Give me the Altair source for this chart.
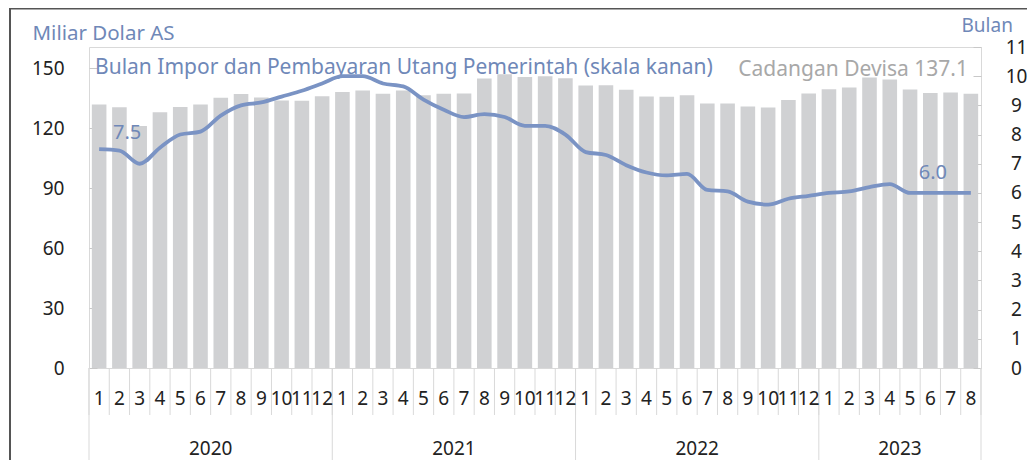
import altair as alt
import pandas as pd

# ---- data ----
years = [2020] * 12 + [2021] * 12 + [2022] * 12 + [2023] * 8
months = list(range(1, 13)) * 3 + list(range(1, 9))
reserves = [131.7, 130.4, 121.0, 127.9, 130.5, 131.7, 135.1, 137.0, 135.2, 133.7, 133.6, 135.9,
            138.0, 138.8, 137.1, 138.8, 136.4, 137.1, 137.3, 144.8, 146.9, 145.5, 145.9, 144.9,
            141.3, 141.4, 139.1, 135.7, 135.6, 136.4, 132.2, 132.2, 130.8, 130.2, 134.0, 137.2,
            139.4, 140.3, 145.2, 144.2, 139.3, 137.5, 137.7, 137.1]
import_months = [7.5, 7.45, 7.0, 7.55, 8.0, 8.1, 8.65, 9.0, 9.1, 9.3, 9.5, 9.75,
                 10.0, 10.0, 9.75, 9.65, 9.2, 8.85, 8.6, 8.7, 8.6, 8.3, 8.3, 8.0,
                 7.4, 7.3, 6.95, 6.7, 6.6, 6.65, 6.1, 6.05, 5.7, 5.6, 5.8, 5.9,
                 6.0, 6.05, 6.2, 6.3, 6.0, 6.0, 6.0, 6.0]
year_labels = ["2020", "2021", "2022", "2023"]
left_ticks = [0, 30, 60, 90, 120, 150]
right_ticks = list(range(0, 12))

n = len(reserves)
df = pd.DataFrame({
    "idx": list(range(n)),
    "year": years,
    "month": months,
    "reserves": reserves,
    "imp": import_months,
})
df["mlabel"] = df["month"].astype(str)

yr = df.groupby("year")["idx"].agg(["min", "max"]).reset_index()
yr["center"] = (yr["min"] + yr["max"]) / 2
yr["label"] = year_labels
yr_bounds = pd.DataFrame({"b": [-0.5] + [float(v) + 0.5 for v in yr["max"]]})
m_bounds = pd.DataFrame({"b": [i - 0.5 for i in range(n + 1)]})

FONT = "Noto Sans"
BAR = "#d0d1d3"
LINE = "#7a93c4"
BLUE_TXT = "#6f88b8"
GRID = "#d9d9d9"

xs = alt.Scale(domain=[-0.5, n - 0.5], nice=False, zero=False)
yl = alt.Scale(domain=[0, 160.5], nice=False)
yr_s = alt.Scale(domain=[0, 11], nice=False)

left_axis = alt.Axis(
    values=left_ticks, grid=False, domain=False, ticks=True, tickSize=8,
    tickColor="#c8c8c8", offset=-8, labelPadding=25, labelFontSize=19,
    labelColor="#222222", labelFont=FONT,
    title="Miliar Dolar AS", titleAngle=0, titleAlign="left",
    titleBaseline="middle", titleX=-65, titleY=-14, titleFontSize=20.5,
    titleFontWeight="normal", titleColor=BLUE_TXT, titleFont=FONT,
)
right_axis = alt.Axis(
    orient="right", values=right_ticks, grid=False, domain=False, ticks=True,
    tickSize=8, tickColor="#c8c8c8", offset=-8, labelPadding=35,
    labelAlign="center", labelFontSize=19, labelColor="#222222", labelFont=FONT,
    title="Bulan", titleAngle=0, titleAlign="left", titleBaseline="middle",
    titleX=-12, titleY=-22, titleFontSize=19, titleFontWeight="normal",
    titleColor=BLUE_TXT, titleFont=FONT,
)

base = alt.Chart(df)

bars = base.transform_calculate(
    x1="datum.idx - 0.36", x2="datum.idx + 0.36"
).mark_bar(color=BAR).encode(
    x=alt.X("x1:Q", scale=xs, axis=None),
    x2="x2:Q",
    y=alt.Y("reserves:Q", scale=yl, axis=left_axis),
    y2=alt.datum(0),
)

line = base.mark_line(color=LINE, strokeWidth=3.8, interpolate="monotone").encode(
    x=alt.X("idx:Q", scale=xs, axis=None),
    y=alt.Y("imp:Q", scale=yr_s, axis=right_axis),
)

lab_first = base.transform_filter("datum.idx == 0").mark_text(
    font=FONT, fontSize=20, color=BLUE_TXT, dx=28, dy=-16
).encode(
    x=alt.X("idx:Q", scale=xs, axis=None), y=alt.Y("imp:Q", scale=yr_s, axis=right_axis),
    text=alt.Text("imp:Q", format=".1f"),
)
lab_last = base.transform_filter(f"datum.idx == {n - 1}").mark_text(
    font=FONT, fontSize=20, color=BLUE_TXT, dx=-38, dy=-20
).encode(
    x=alt.X("idx:Q", scale=xs, axis=None), y=alt.Y("imp:Q", scale=yr_s, axis=right_axis),
    text=alt.Text("imp:Q", format=".1f"),
)

legend_line = alt.Chart(pd.DataFrame({"t": ["Bulan Impor dan Pembayaran Utang Pemerintah (skala kanan)"]})).mark_text(
    font=FONT, fontSize=21, color=BLUE_TXT, align="left", baseline="middle"
).encode(x=alt.value(6), y=alt.value(21), text="t:N")

legend_bar = alt.Chart(pd.DataFrame({"t": [f"Cadangan Devisa {reserves[-1]}"]})).mark_text(
    font=FONT, fontSize=21, color="#a8a8a8", align="right", baseline="middle"
).encode(x=alt.value(879), y=alt.value(23), text="t:N")

month_text = base.mark_text(font=FONT, fontSize=19, color="#222222", baseline="middle").encode(
    x=alt.X("idx:Q", scale=xs, axis=None), y=alt.value(352), text="mlabel:N"
)
year_text = alt.Chart(yr).mark_text(font=FONT, fontSize=19, color="#222222", baseline="middle").encode(
    x=alt.X("center:Q", scale=xs, axis=None), y=alt.value(402), text="label:N"
)

m_sep = alt.Chart(m_bounds).mark_rule(color=GRID, strokeWidth=1).encode(
    x=alt.X("b:Q", scale=xs, axis=None), y=alt.value(321), y2=alt.value(368)
)
y_sep = alt.Chart(yr_bounds).mark_rule(color=GRID, strokeWidth=1).encode(
    x=alt.X("b:Q", scale=xs, axis=None), y=alt.value(321), y2=alt.value(420)
)

border_top = alt.Chart(pd.DataFrame({"a": [0]})).mark_rule(color="#555555", strokeWidth=2).encode(
    x=alt.value(-79), x2=alt.value(960), y=alt.value(-38.5)
)
border_left = alt.Chart(pd.DataFrame({"a": [0]})).mark_rule(color="#555555", strokeWidth=2).encode(
    x=alt.value(-79), y=alt.value(-39), y2=alt.value(420)
)

left_part = alt.layer(
    m_sep, y_sep, bars, legend_line, legend_bar, month_text, year_text,
    border_top, border_left,
)
right_part = alt.layer(line, lab_first, lab_last)

chart = alt.layer(left_part, right_part).resolve_scale(y="independent").properties(
    width=892, height=321,
    autosize=alt.AutoSizeParams(type="none"),
    padding={"left": 81, "top": 39, "right": 46, "bottom": 92},
    background="white",
).configure_view(stroke=GRID, strokeWidth=1)

chart.save("out.html", embed_options={"renderer": "svg", "actions": False})
